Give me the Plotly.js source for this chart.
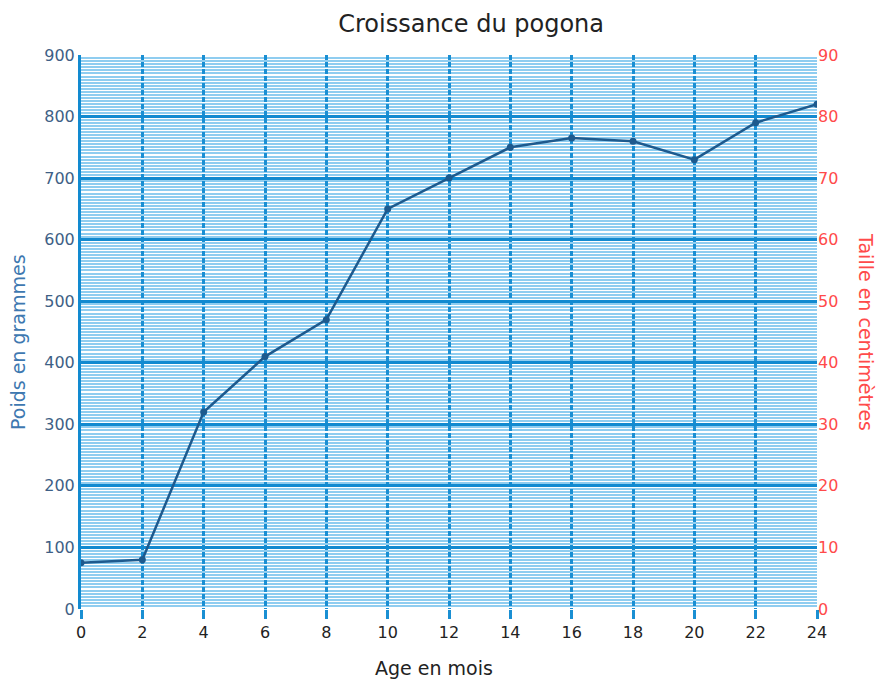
<!DOCTYPE html>
<html>
<head>
<meta charset="utf-8">
<script src="https://cdn.plot.ly/plotly-3.0.1.min.js"></script>
<style>html,body{margin:0;padding:0;background:#fff;}#chart{width:879px;height:680px;}</style>
</head>
<body>
<div id="chart"></div>
<script>
const ages = [0, 2, 4, 6, 8, 10, 12, 14, 16, 18, 20, 22, 24];
const poids = [75, 80, 320, 410, 470, 650, 700, 750, 765, 760, 730, 790, 820];
const xTicks = [0, 2, 4, 6, 8, 10, 12, 14, 16, 18, 20, 22, 24];
const yTicks = [0, 100, 200, 300, 400, 500, 600, 700, 800, 900];
const y2Ticks = [0, 10, 20, 30, 40, 50, 60, 70, 80, 90];

const font = "DejaVu Sans, Verdana, sans-serif";

const traces = [
  {
    x: ages, y: poids, type: 'scatter', mode: 'lines+markers',
    line: {color: '#1d5a8e', width: 2.5},
    marker: {color: '#1d5a8e', size: 7},
    showlegend: false, hoverinfo: 'x+y'
  },
  {
    x: [null], y: [null], yaxis: 'y2', type: 'scatter', mode: 'lines',
    showlegend: false, hoverinfo: 'skip'
  }
];

const layout = {
  width: 879, height: 680,
  margin: {l: 81, r: 62, t: 55, b: 71},
  paper_bgcolor: '#ffffff', plot_bgcolor: '#ffffff',
  font: {family: font},
  title: {text: 'Croissance du pogona', x: 0.536, xref: 'container', xanchor: 'center', y: 0.965, yref: 'container', yanchor: 'middle',
          font: {family: font, size: 24, color: '#222222'}},
  xaxis: {
    range: [0, 24], tickvals: xTicks, ticktext: xTicks.map(String),
    showgrid: true, gridcolor: '#1a8fd3', gridwidth: 3, griddash: '5px,2px',
    ticks: 'outside', ticklen: 9, tickwidth: 3, tickcolor: '#1a8fd3',
    showline: false, zeroline: false,
    tickfont: {family: font, size: 16, color: '#222222'}
  },
  yaxis: {
    range: [0, 900], tickvals: yTicks, ticktext: yTicks.map(String),
    showgrid: true, gridcolor: '#128ad0', gridwidth: 3,
    minor: {dtick: 5, showgrid: true, gridcolor: '#8fcdf0', gridwidth: 2},
    showline: true, linecolor: '#128ad0', linewidth: 3,
    ticks: '', zeroline: false,
    tickfont: {family: font, size: 16, color: '#3e5f86'}
  },
  yaxis2: {
    overlaying: 'y', side: 'right', anchor: 'x',
    range: [0, 90], tickvals: y2Ticks, ticktext: y2Ticks.map(String),
    showgrid: false, zeroline: false, showline: false, ticks: '',
    tickfont: {family: font, size: 16, color: '#ff4a4a'}
  },
  annotations: [
    {text: 'Age en mois', xref: 'paper', yref: 'paper', x: (434 - 81) / 736, y: 0,
     yshift: -59, xanchor: 'center', yanchor: 'middle', showarrow: false,
     font: {family: font, size: 19, color: '#222222'}},
    {text: 'Poids en grammes', xref: 'paper', yref: 'paper', x: 0, y: (609 - 342) / 554,
     xshift: -63, xanchor: 'center', yanchor: 'middle', textangle: -90, showarrow: false,
     font: {family: font, size: 19, color: '#3e78b0'}},
    {text: 'Taille en centimètres', xref: 'paper', yref: 'paper', x: 1, y: (609 - 332) / 554,
     xshift: 49, xanchor: 'center', yanchor: 'middle', textangle: 90, showarrow: false,
     font: {family: font, size: 19, color: '#ff4a4a'}}
  ]
};

Plotly.newPlot('chart', traces, layout, {displayModeBar: false, staticPlot: true});
</script>
</body>
</html>
